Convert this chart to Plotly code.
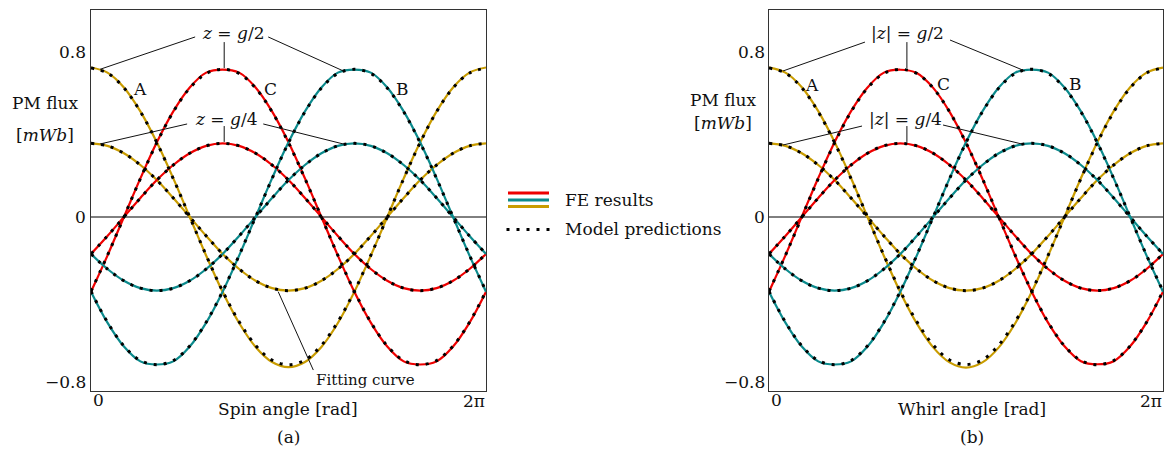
import plotly.graph_objects as go

# ---------------- data ----------------
angle_deg = [0, 15, 30, 45, 60, 75, 90, 105, 120, 135, 150, 165, 180,
             195, 210, 225, 240, 255, 270, 285, 300, 315, 330, 345, 360]

# Panel (a): spin angle
spin_fe_A_half = [0.725, 0.700, 0.628, 0.512, 0.362, 0.187, 0.000, -0.188, -0.364, -0.514, -0.630, -0.703, -0.728,
                  -0.703, -0.630, -0.514, -0.363, -0.187, 0.000, 0.187, 0.362, 0.512, 0.628, 0.700, 0.725]
spin_fe_C_half = [-0.362, -0.187, 0.000, 0.187, 0.362, 0.512, 0.628, 0.700, 0.715, 0.700, 0.628, 0.512, 0.362,
                  0.187, 0.000, -0.187, -0.362, -0.512, -0.628, -0.700, -0.715, -0.700, -0.628, -0.512, -0.362]
spin_fe_B_half = [-0.362, -0.512, -0.628, -0.700, -0.715, -0.700, -0.628, -0.512, -0.362, -0.187, 0.000, 0.187, 0.362,
                  0.512, 0.628, 0.700, 0.715, 0.700, 0.628, 0.512, 0.362, 0.187, 0.000, -0.187, -0.362]
spin_fe_A_quarter = [0.357, 0.345, 0.309, 0.252, 0.179, 0.092, 0.000, -0.092, -0.179, -0.252, -0.309, -0.345, -0.357,
                     -0.345, -0.309, -0.252, -0.179, -0.092, 0.000, 0.092, 0.179, 0.252, 0.309, 0.345, 0.357]
spin_fe_C_quarter = [-0.179, -0.092, 0.000, 0.092, 0.179, 0.252, 0.309, 0.345, 0.357, 0.345, 0.309, 0.252, 0.179,
                     0.092, 0.000, -0.092, -0.179, -0.252, -0.309, -0.345, -0.357, -0.345, -0.309, -0.252, -0.179]
spin_fe_B_quarter = [-0.179, -0.252, -0.309, -0.345, -0.357, -0.345, -0.309, -0.252, -0.179, -0.092, 0.000, 0.092, 0.179,
                     0.252, 0.309, 0.345, 0.357, 0.345, 0.309, 0.252, 0.179, 0.092, 0.000, -0.092, -0.179]

spin_model_A_half = [0.722, 0.698, 0.626, 0.511, 0.361, 0.186, 0.000, -0.186, -0.360, -0.508, -0.622, -0.694, -0.716,
                     -0.694, -0.622, -0.508, -0.360, -0.186, 0.000, 0.186, 0.361, 0.511, 0.626, 0.698, 0.722]
spin_model_C_half = [-0.360, -0.186, 0.000, 0.186, 0.360, 0.510, 0.625, 0.696, 0.716, 0.696, 0.625, 0.510, 0.360,
                     0.186, 0.000, -0.186, -0.360, -0.510, -0.625, -0.696, -0.716, -0.696, -0.625, -0.510, -0.360]
spin_model_B_half = [-0.360, -0.510, -0.625, -0.696, -0.716, -0.696, -0.625, -0.510, -0.360, -0.186, 0.000, 0.186, 0.360,
                     0.510, 0.625, 0.696, 0.716, 0.696, 0.625, 0.510, 0.360, 0.186, 0.000, -0.186, -0.360]
spin_model_A_quarter = [0.357, 0.345, 0.309, 0.252, 0.179, 0.092, 0.000, -0.092, -0.179, -0.252, -0.309, -0.345, -0.357,
                        -0.345, -0.309, -0.252, -0.179, -0.092, 0.000, 0.092, 0.179, 0.252, 0.309, 0.345, 0.357]
spin_model_C_quarter = [-0.179, -0.092, 0.000, 0.092, 0.179, 0.252, 0.309, 0.345, 0.357, 0.345, 0.309, 0.252, 0.179,
                        0.092, 0.000, -0.092, -0.179, -0.252, -0.309, -0.345, -0.357, -0.345, -0.309, -0.252, -0.179]
spin_model_B_quarter = [-0.179, -0.252, -0.309, -0.345, -0.357, -0.345, -0.309, -0.252, -0.179, -0.092, 0.000, 0.092, 0.179,
                        0.252, 0.309, 0.345, 0.357, 0.345, 0.309, 0.252, 0.179, 0.092, 0.000, -0.092, -0.179]

# Panel (b): whirl angle
whirl_fe_A_half = [0.724, 0.700, 0.629, 0.513, 0.363, 0.188, 0.000, -0.189, -0.365, -0.516, -0.632, -0.705, -0.730,
                   -0.705, -0.632, -0.515, -0.364, -0.188, 0.000, 0.188, 0.363, 0.513, 0.629, 0.700, 0.724]
whirl_fe_C_half = [-0.362, -0.186, 0.002, 0.189, 0.364, 0.513, 0.628, 0.700, 0.714, 0.698, 0.626, 0.510, 0.360,
                   0.185, -0.002, -0.188, -0.362, -0.512, -0.627, -0.699, -0.714, -0.699, -0.627, -0.511, -0.362]
whirl_fe_B_half = [-0.362, -0.512, -0.628, -0.700, -0.715, -0.700, -0.628, -0.512, -0.362, -0.187, 0.000, 0.187, 0.362,
                   0.512, 0.628, 0.700, 0.715, 0.700, 0.628, 0.512, 0.362, 0.187, 0.000, -0.187, -0.362]
whirl_fe_A_quarter = [0.357, 0.345, 0.309, 0.252, 0.179, 0.092, 0.000, -0.092, -0.179, -0.252, -0.309, -0.345, -0.357,
                      -0.345, -0.309, -0.252, -0.179, -0.092, 0.000, 0.092, 0.179, 0.252, 0.309, 0.345, 0.357]
whirl_fe_C_quarter = [-0.179, -0.092, 0.000, 0.092, 0.179, 0.252, 0.309, 0.345, 0.357, 0.345, 0.309, 0.252, 0.179,
                      0.092, 0.000, -0.092, -0.179, -0.252, -0.309, -0.345, -0.357, -0.345, -0.309, -0.252, -0.179]
whirl_fe_B_quarter = [-0.179, -0.252, -0.309, -0.345, -0.357, -0.345, -0.309, -0.252, -0.179, -0.092, 0.000, 0.092, 0.179,
                      0.252, 0.309, 0.345, 0.357, 0.345, 0.309, 0.252, 0.179, 0.092, 0.000, -0.092, -0.179]

whirl_model_A_half = [0.722, 0.698, 0.626, 0.510, 0.360, 0.185, 0.000, -0.186, -0.360, -0.507, -0.620, -0.693, -0.715,
                      -0.693, -0.620, -0.507, -0.360, -0.186, 0.000, 0.186, 0.360, 0.510, 0.626, 0.698, 0.722]
whirl_model_C_half = [-0.360, -0.186, 0.000, 0.186, 0.360, 0.510, 0.625, 0.696, 0.716, 0.696, 0.625, 0.510, 0.360,
                      0.186, 0.000, -0.186, -0.360, -0.510, -0.625, -0.696, -0.716, -0.696, -0.625, -0.510, -0.360]
whirl_model_B_half = [-0.360, -0.510, -0.625, -0.696, -0.716, -0.696, -0.625, -0.510, -0.360, -0.186, 0.000, 0.186, 0.360,
                      0.510, 0.625, 0.696, 0.716, 0.696, 0.625, 0.510, 0.360, 0.186, 0.000, -0.186, -0.360]
whirl_model_A_quarter = [0.357, 0.345, 0.309, 0.252, 0.179, 0.092, 0.000, -0.092, -0.179, -0.252, -0.309, -0.345, -0.357,
                         -0.345, -0.309, -0.252, -0.179, -0.092, 0.000, 0.092, 0.179, 0.252, 0.309, 0.345, 0.357]
whirl_model_C_quarter = [-0.179, -0.092, 0.000, 0.092, 0.179, 0.252, 0.309, 0.345, 0.357, 0.345, 0.309, 0.252, 0.179,
                         0.092, 0.000, -0.092, -0.179, -0.252, -0.309, -0.345, -0.357, -0.345, -0.309, -0.252, -0.179]
whirl_model_B_quarter = [-0.179, -0.252, -0.309, -0.345, -0.357, -0.345, -0.309, -0.252, -0.179, -0.092, 0.000, 0.092, 0.179,
                         0.252, 0.309, 0.345, 0.357, 0.345, 0.309, 0.252, 0.179, 0.092, 0.000, -0.092, -0.179]

y_ticks = [0.8, 0, -0.8]
y_tick_labels = ["0.8", "0", "\u22120.8"]

# ---------------- styles ----------------
RED = "#ee0000"
TEAL = "#0b8a8c"
GOLD = "#c99c00"
FONT = "DejaVu Serif"
FS = 17
W, H = 1164, 451
DOT = "3px,7px"

fig = go.Figure()

panels = [
    ("x", "y",
     [(spin_fe_A_half, GOLD), (spin_fe_A_quarter, GOLD), (spin_fe_C_half, RED), (spin_fe_C_quarter, RED),
      (spin_fe_B_half, TEAL), (spin_fe_B_quarter, TEAL)],
     [spin_model_A_half, spin_model_A_quarter, spin_model_C_half, spin_model_C_quarter,
      spin_model_B_half, spin_model_B_quarter]),
    ("x2", "y2",
     [(whirl_fe_A_half, GOLD), (whirl_fe_A_quarter, GOLD), (whirl_fe_C_half, RED), (whirl_fe_C_quarter, RED),
      (whirl_fe_B_half, TEAL), (whirl_fe_B_quarter, TEAL)],
     [whirl_model_A_half, whirl_model_A_quarter, whirl_model_C_half, whirl_model_C_quarter,
      whirl_model_B_half, whirl_model_B_quarter]),
]

for xa, ya, fe, model in panels:
    for vals, col in fe:
        fig.add_trace(go.Scatter(x=angle_deg, y=vals, xaxis=xa, yaxis=ya, mode="lines",
                                 line=dict(color=col, width=2.2, shape="spline", smoothing=1.0),
                                 showlegend=False, hoverinfo="skip"))
    for vals in model:
        fig.add_trace(go.Scatter(x=angle_deg, y=vals, xaxis=xa, yaxis=ya, mode="lines",
                                 line=dict(color="black", width=3, dash=DOT, shape="spline", smoothing=1.0),
                                 showlegend=False, hoverinfo="skip"))


def px(x):
    return x / W


def py(y):
    return 1 - y / H


Y_RANGE = [-0.8436, 1.0036]
axis_common = dict(showgrid=False, showline=True, mirror=True, linecolor="#333333", linewidth=1.3,
                   ticks="", zeroline=False, showticklabels=False)

fig.update_layout(
    width=W, height=H, margin=dict(l=0, r=0, t=0, b=0),
    paper_bgcolor="white", plot_bgcolor="white",
    font=dict(family=FONT, size=FS, color="#111111"),
    showlegend=False,
    xaxis=dict(domain=[px(91), px(486)], range=[0, 360], **axis_common),
    yaxis=dict(domain=[py(391), py(10)], range=Y_RANGE, **axis_common),
    xaxis2=dict(domain=[px(769), px(1163)], range=[0, 360], anchor="y2", **axis_common),
    yaxis2=dict(domain=[py(391), py(10)], range=Y_RANGE, anchor="x2", **axis_common),
)

shapes = []
# zero lines
for xr, yr in (("x", "y"), ("x2", "y2")):
    shapes.append(dict(type="line", xref=xr, yref=yr, x0=0, x1=360, y0=0, y1=0,
                       line=dict(color="black", width=1.0), layer="below"))


def seg(xr, yr, x0, y0, x1, y1):
    shapes.append(dict(type="line", xref=xr, yref=yr, x0=x0, y0=y0, x1=x1, y1=y1,
                       line=dict(color="#111111", width=1.0)))


# panel (a) leader lines
seg("x", "y", 94.9, 0.873, 8.2, 0.716)
seg("x", "y", 161.5, 0.873, 230.0, 0.708)
seg("x", "y", 121.4, 0.848, 121.4, 0.722)
seg("x", "y", 87.6, 0.451, 8.2, 0.354)
seg("x", "y", 157.0, 0.451, 230.0, 0.354)
seg("x", "y", 121.4, 0.441, 121.4, 0.364)
seg("x", "y", 170.6, -0.362, 202.6, -0.742)
# panel (b) leader lines
seg("x2", "y2", 87.7, 0.848, 12.8, 0.708)
seg("x2", "y2", 165.4, 0.858, 233.9, 0.708)
seg("x2", "y2", 126.0, 0.848, 126.0, 0.722)
seg("x2", "y2", 85.0, 0.441, 12.8, 0.349)
seg("x2", "y2", 159.0, 0.446, 231.0, 0.354)
seg("x2", "y2", 126.0, 0.441, 126.0, 0.364)

# legend lines
for yy, col in ((193, RED), (200, TEAL), (206.5, GOLD)):
    shapes.append(dict(type="line", xref="paper", yref="paper", x0=px(508), x1=px(549), y0=py(yy), y1=py(yy),
                       line=dict(color=col, width=3)))
shapes.append(dict(type="line", xref="paper", yref="paper", x0=px(506.5), x1=px(551), y0=py(229.5), y1=py(229.5),
                   line=dict(color="black", width=3, dash="3px,7px")))

fig.update_layout(shapes=shapes)

ann = []


def text(x, y, t, xanchor="center", size=FS, xref="paper", yref="paper"):
    ann.append(dict(x=x, y=y, xref=xref, yref=yref, text=t, showarrow=False,
                    xanchor=xanchor, yanchor="middle", font=dict(family=FONT, size=size, color="#111111")))


def ptext(x, y, t, xanchor="center", size=FS):
    text(px(x), py(y), t, xanchor, size)


# y tick labels (placed at the axis values)
for xa_pix, yr in ((88, "y"), (767, "y2")):
    for v, lab in zip(y_ticks, y_tick_labels):
        ann.append(dict(x=px(xa_pix), y=v, xref="paper", yref=yr, text=lab, showarrow=False,
                        xanchor="right", yanchor="middle", font=dict(family=FONT, size=FS, color="#111111")))

# panel (a)
ptext(233, 33, "<i>z</i> = <i>g</i>/2")
ptext(226, 119, "<i>z</i> = <i>g</i>/4")
ptext(140, 89, "A")
ptext(270, 89, "C")
ptext(402, 89, "B")
ptext(45, 103, "PM flux")
ptext(45, 135, "[<i>mWb</i>]")
ptext(91, 400, "0", "left")
ptext(487, 401, "2\u03c0", "right")
ptext(288, 409, "Spin angle [rad]")
ptext(288, 437, "(a)")
ptext(365, 380, "Fitting curve", size=15)

# panel (b)
ptext(907, 33, "|<i>z</i>| = <i>g</i>/2")
ptext(905, 119, "|<i>z</i>| = <i>g</i>/4")
ptext(812, 85, "A")
ptext(943, 84, "C")
ptext(1075, 84, "B")
ptext(723, 100, "PM flux")
ptext(723, 123, "[<i>mWb</i>]")
ptext(769, 400, "0", "left")
ptext(1164, 401, "2\u03c0", "right")
ptext(972, 409, "Whirl angle [rad]")
ptext(972, 437, "(b)")

# legend text
ptext(563, 200, "FE results", "left")
ptext(563, 229, "Model predictions", "left")

fig.update_layout(annotations=ann)

fig.write_html("out.html")
